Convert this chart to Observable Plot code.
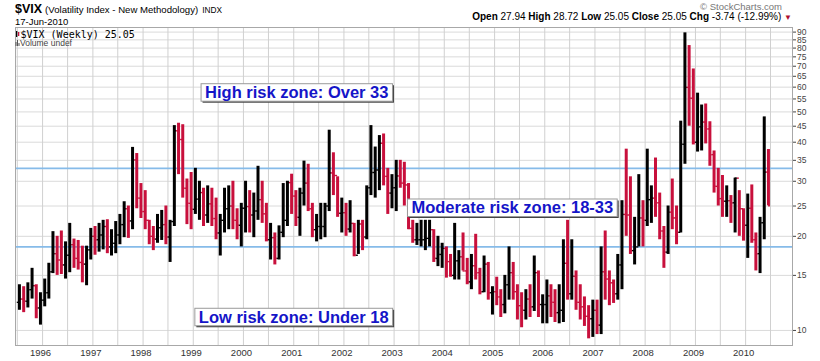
<!DOCTYPE html>
<html><head><meta charset="utf-8">
<script src="https://cdn.jsdelivr.net/npm/d3@7"></script>
<script src="https://cdn.jsdelivr.net/npm/@observablehq/plot@0.6"></script>
<style>
body{margin:0;background:#fff}
#wrap{position:relative;width:820px;height:361px;font-family:"Liberation Sans",Arial,sans-serif}
#wrap svg{position:absolute;left:0;top:0}
</style></head><body>
<div id="wrap"></div>
<script>
// Monthly bars, Jul 1995 .. Jun 2010
const firstMonth = [1995, 6];
const firstOpen = 12.3;
const highs = [
  14.0, 13.8, 14.2, 15.8, 14.0, 13.2,
  14.6, 16.4, 20.7, 20.0, 20.8, 19.2, 22.0, 19.6, 19.4, 18.6, 18.6, 21.2,
  21.5, 22.0, 22.5, 22.6, 21.0, 22.3, 23.5, 25.8, 25.0, 38.5, 36.8, 29.5,
  28.0, 22.5, 21.5, 23.5, 24.2, 25.0, 22.5, 45.2, 46.0, 45.5, 30.5, 32.0,
  33.0, 30.0, 28.5, 29.0, 28.5, 26.5, 23.5, 28.5, 29.0, 30.0, 24.5, 25.5,
  30.0, 28.0, 27.5, 33.5, 30.0, 25.5, 22.0, 20.5, 21.6, 29.5, 30.0, 31.6,
  28.0, 28.5, 34.8, 34.0, 25.5, 23.5, 25.5, 25.5, 43.7, 37.0, 31.0, 26.5,
  25.5, 26.0, 22.0, 22.5, 22.5, 29.0, 45.2, 38.6, 42.0, 42.5, 33.0, 31.5,
  35.0, 35.0, 34.5, 29.5, 22.5, 22.0, 22.5, 22.5, 22.5, 21.0, 20.0, 19.0,
  18.5, 17.5, 22.0, 18.0, 20.5, 17.0, 17.5, 20.3, 15.8, 17.3, 16.5, 13.8,
  14.8, 13.5, 15.0, 18.5, 16.5, 14.0, 13.2, 13.5, 14.0, 17.3, 15.5, 13.0,
  14.5, 14.0, 13.5, 14.0, 19.5, 22.5, 19.5, 15.5, 14.0, 12.8, 12.0, 12.5,
  12.5, 18.5, 20.8, 15.5, 14.5, 17.5, 26.0, 38.0, 31.0, 23.0, 31.5, 26.0,
  38.0, 29.0, 35.6, 27.5, 21.5, 25.0, 30.5, 25.0, 46.7, 89.5, 81.5, 68.6,
  57.4, 52.6, 53.0, 46.5, 37.5, 33.0, 31.3, 29.0, 27.0, 30.7, 28.0, 24.5,
  27.3, 29.2, 20.5, 23.0, 48.2, 37.9
];
const lows = [
  11.6, 11.4, 11.8, 12.6, 10.9, 10.4,
  11.9, 12.6, 15.2, 15.0, 15.1, 14.6, 15.3, 15.8, 15.6, 14.2, 13.9, 16.8,
  17.4, 17.8, 18.1, 17.6, 17.3, 17.6, 18.8, 19.8, 19.7, 21.0, 24.5, 22.8,
  21.0, 18.8, 18.0, 19.0, 19.4, 18.8, 16.5, 21.5, 31.5, 26.5, 21.8, 21.0,
  23.5, 22.5, 21.5, 22.0, 21.5, 19.5, 17.3, 20.5, 21.0, 21.0, 19.5, 18.5,
  20.5, 20.5, 19.8, 22.5, 22.0, 19.2, 16.8, 16.2, 16.8, 19.8, 21.5, 23.5,
  21.5, 20.0, 25.0, 24.0, 19.8, 19.2, 19.5, 19.8, 24.0, 27.0, 23.0, 20.5,
  20.0, 20.5, 17.2, 17.5, 18.0, 19.5, 27.0, 26.5, 28.0, 29.0, 23.5, 24.5,
  24.0, 28.5, 25.0, 21.0, 19.0, 18.7, 18.5, 18.0, 18.5, 16.5, 16.0, 15.8,
  14.7, 14.8, 14.5, 14.5, 15.5, 14.0, 13.5, 14.5, 13.0, 13.2, 12.5, 11.2,
  12.0, 11.0, 11.3, 12.5, 12.5, 10.8, 10.2, 10.8, 11.0, 11.5, 11.0, 10.5,
  10.5, 11.0, 10.6, 10.5, 10.6, 12.5, 12.5, 11.6, 10.8, 10.3, 9.4, 9.5,
  9.7, 9.7, 12.5, 12.0, 12.2, 12.5, 13.5, 20.0, 17.5, 16.2, 18.5, 18.5,
  21.5, 22.0, 23.0, 19.5, 15.8, 17.5, 21.0, 18.8, 20.5, 34.0, 45.0, 39.2,
  37.2, 37.5, 39.5, 33.5, 27.5, 25.0, 23.0, 23.0, 22.0, 20.5, 20.0, 19.3,
  17.0, 19.0, 15.5, 15.2, 19.5, 25.05
];
const closes = [
  12.6, 12.4, 13.5, 13.9, 11.8, 12.5,
  13.2, 15.4, 17.6, 16.8, 16.2, 17.4, 18.8, 17.0, 16.5, 16.3, 18.1, 20.0,
  19.5, 20.2, 21.5, 18.5, 19.0, 20.2, 21.8, 24.5, 22.4, 35.1, 26.5, 24.0,
  22.5, 20.0, 19.6, 21.3, 21.8, 19.9, 22.3, 43.5, 40.8, 28.5, 25.5, 24.4,
  26.3, 27.6, 23.4, 25.4, 22.8, 20.5, 22.5, 24.5, 25.0, 22.5, 21.7, 24.6,
  24.9, 23.4, 24.1, 26.2, 23.6, 19.5, 19.8, 17.0, 20.6, 22.5, 29.7, 26.9,
  23.0, 27.5, 29.6, 24.5, 21.0, 21.5, 21.5, 25.0, 31.9, 31.3, 23.7, 23.8,
  21.1, 22.0, 17.4, 21.9, 19.9, 28.6, 32.0, 32.6, 39.7, 31.1, 27.5, 28.6,
  31.2, 29.6, 29.2, 21.2, 19.5, 19.5, 19.5, 19.7, 21.0, 17.0, 17.5, 18.3,
  16.6, 15.0, 16.7, 17.2, 15.5, 14.3, 16.1, 15.3, 13.3, 16.3, 13.2, 13.3,
  12.8, 12.1, 14.0, 15.3, 13.3, 12.0, 11.6, 12.6, 11.9, 15.3, 12.1, 12.1,
  12.9, 12.3, 11.4, 11.6, 16.4, 13.1, 14.9, 12.3, 11.9, 11.1, 10.9, 11.6,
  10.4, 15.4, 14.6, 14.2, 13.1, 16.2, 23.5, 23.4, 18.0, 18.5, 22.9, 22.5,
  26.2, 26.5, 25.6, 20.8, 17.8, 23.9, 22.9, 20.6, 39.4, 59.9, 55.3, 40.0,
  44.8, 46.4, 44.1, 36.5, 28.9, 26.4, 25.9, 26.0, 25.6, 30.7, 24.5, 21.7,
  24.6, 19.5, 17.6, 22.1, 32.1, 25.05
];
const zoneLevels = [18.5, 33];
const yTicks = [10, 15, 20, 25, 30, 35, 40, 45, 50, 55, 60, 65, 70, 75, 80, 85, 90];
const yearLabels = [1996, 1997, 1998, 1999, 2000, 2001, 2002, 2003, 2004, 2005, 2006, 2007, 2008, 2009, 2010];
const noteLabels = ["High risk zone: Over 33", "Moderate risk zone: 18-33", "Low risk zone: Under 18"];
const noteDates = ["2001-01-23", "2005-05-10", "2001-01-01"];
const noteValues = [57.5, 24.6, 11.0];

const upColor = "#000000", downColor = "#c8103c";
const start = new Date(Date.UTC(firstMonth[0], firstMonth[1], 1));
const bars = highs.map((h, i) => {
  const s = d3.utcMonth.offset(start, i);
  const e = d3.utcMonth.offset(start, i + 1);
  const open = i ? closes[i - 1] : firstOpen;
  return {start: s, mid: new Date((+s + +e) / 2), end: e, open, high: h, low: lows[i], close: closes[i], up: closes[i] >= open};
});
const xDomain = [new Date(Date.UTC(1995, 5, 18)), new Date(Date.UTC(2010, 11, 8))];
const gridDates = d3.utcMonth.every(6).range(xDomain[0], xDomain[1]);
const yearDates = yearLabels.map(y => new Date(Date.UTC(y, 0, 1)));
const notes = noteLabels.map((label, i) => ({label, date: new Date(noteDates[i]), value: noteValues[i]}));
const col = d => d.up ? upColor : downColor;

const chart = Plot.plot({
  width: 820, height: 361,
  marginTop: 27, marginRight: 28, marginBottom: 16, marginLeft: 15,
  style: {fontFamily: "Liberation Sans, Arial, sans-serif", background: "white"},
  x: {type: "utc", domain: xDomain},
  y: {type: "log", domain: [8.95, 93.1]},
  marks: [
    Plot.ruleY(yTicks, {stroke: "#dadada"}),
    Plot.ruleX(gridDates, {stroke: "#d0d0d0"}),
    Plot.ruleY(zoneLevels, {stroke: "#86bbe9", strokeWidth: 1.6}),
    Plot.ruleX(bars, {x: "mid", y1: "low", y2: "high", stroke: col, strokeWidth: 3}),
    Plot.ruleY(bars, {y: "open", x1: "start", x2: "mid", stroke: col, strokeWidth: 1.4}),
    Plot.ruleY(bars, {y: "close", x1: "mid", x2: "end", stroke: col, strokeWidth: 1.4}),
    Plot.frame({stroke: "#a8a8a8"}),
    Plot.axisY(yTicks, {anchor: "right", tickSize: 3, tickPadding: 1.5, fontSize: 8.5, tickFormat: d3.format("d"), color: "#444", label: null}),
    Plot.axisX(yearDates, {anchor: "bottom", tickSize: 0, tickPadding: 4, fontSize: 9.5, tickFormat: d3.utcFormat("%Y"), color: "#333", label: null, dx: -2}),
    Plot.text(notes, {x: "date", y: "value", text: "label", fill: "#1515c8", fontWeight: "bold", fontSize: 16.5, fontFamily: "Liberation Sans, Arial, sans-serif"})
  ]
});
const wrap = document.getElementById("wrap");
wrap.appendChild(chart);

// boxes behind the zone notes
const ns = "http://www.w3.org/2000/svg";
chart.querySelectorAll('g[aria-label="text"] text').forEach(t => {
  const b = t.getBBox();
  const tr = t.getAttribute("transform");
  const mk = (dx, dy, fill, stroke) => {
    const r = document.createElementNS(ns, "rect");
    r.setAttribute("x", b.x - 4 + dx); r.setAttribute("y", b.y + 0.5 + dy);
    r.setAttribute("width", b.width + 8); r.setAttribute("height", b.height - 0.5);
    r.setAttribute("fill", fill); if (stroke) r.setAttribute("stroke", stroke);
    if (tr) r.setAttribute("transform", tr);
    t.parentNode.insertBefore(r, t);
  };
  mk(1.5, 1.5, "#444", null);
  mk(0, 0, "#fff", "#9a9a9a");
});

// header / legend texts
const hdr = document.createElementNS(ns, "svg");
hdr.setAttribute("width", 820); hdr.setAttribute("height", 50);
hdr.setAttribute("style", "position:absolute;left:0;top:0;pointer-events:none;background:transparent;font-family:'Liberation Sans',Arial,sans-serif");
hdr.innerHTML = `
<text x="15" y="13" fill="#000"><tspan font-size="12.5" font-weight="bold">$VIX</tspan><tspan font-size="9.6" dx="3">(Volatility Index - New Methodology)</tspan><tspan font-size="8.3" dx="4">INDX</tspan></text>
<text x="15" y="25" font-size="9.5" fill="#000">17-Jun-2010</text>
<text x="782" y="10" font-size="9.5" fill="#777" text-anchor="end">© StockCharts.com</text>
<text x="792" y="20" font-size="10" fill="#000" text-anchor="end"><tspan font-weight="bold">Open</tspan> 27.94 <tspan font-weight="bold">High</tspan> 28.72 <tspan font-weight="bold">Low</tspan> 25.05 <tspan font-weight="bold">Close</tspan> 25.05 <tspan font-weight="bold">Chg</tspan> -3.74 (-12.99%) <tspan fill="#b01030" font-size="8">▼</tspan></text>
<rect x="16" y="31" width="1.3" height="6" fill="#000"/><rect x="18" y="32" width="1.3" height="4" fill="#c8103c"/>
<text x="20.5" y="37.5" font-size="10" font-family="DejaVu Sans Mono" fill="#000">$VIX (Weekly) 25.05</text>
<rect x="15.5" y="42" width="1" height="4" fill="#555"/><rect x="17" y="40" width="1" height="6" fill="#555"/><rect x="18.5" y="43" width="1" height="3" fill="#555"/>
<text x="20" y="46" font-size="8.5" fill="#444">Volume undef</text>`;
wrap.appendChild(hdr);
</script>
</body></html>
